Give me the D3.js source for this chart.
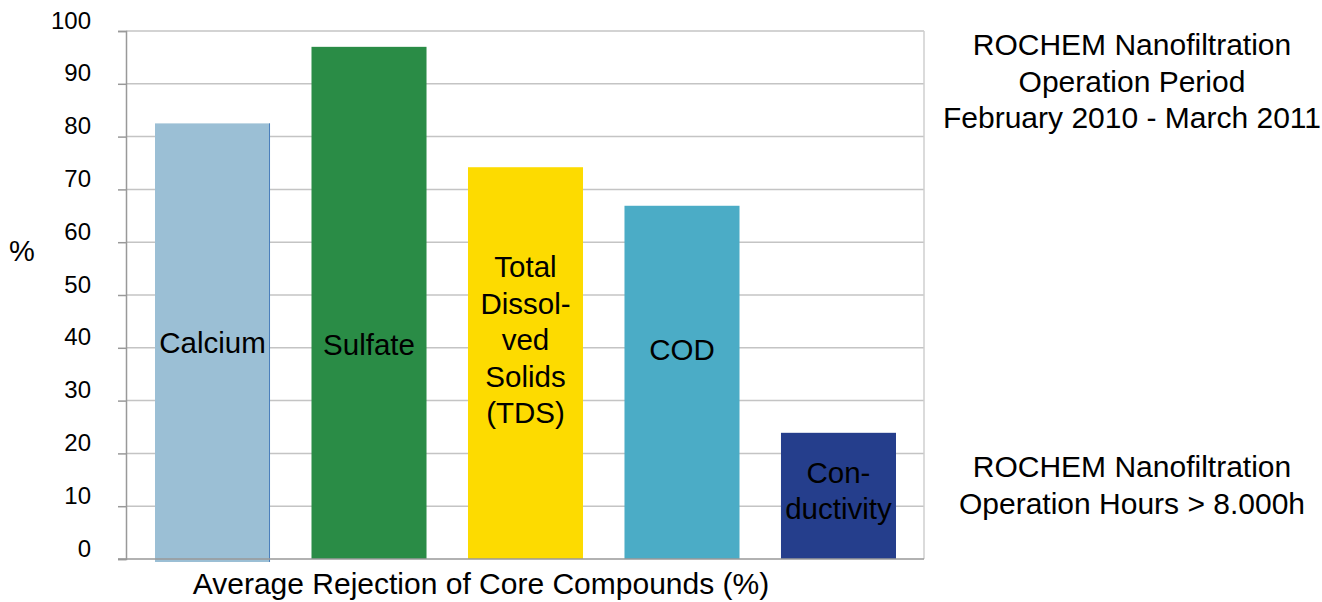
<!DOCTYPE html>
<html><head><meta charset="utf-8">
<script src="https://cdn.jsdelivr.net/npm/d3@7"></script>
<style>
html,body{margin:0;padding:0;background:#fff;}
svg text{font-family:"Liberation Sans",Arial,sans-serif;fill:#000;}
</style></head>
<body><svg id="c" width="1322" height="602"></svg>
<script>
const categories = ["Calcium","Sulfate","TDS","COD","Conductivity"];
const values = [82.5, 97.0, 74.2, 66.9, 23.9];
const colors = ["#9BBFD5","#2A8C46","#FDDB00","#4BACC6","#253E8C"];
const barLabels = [["Calcium"],["Sulfate"],["Total","Dissol-","ved","Solids","(TDS)"],["COD"],["Con-","ductivity"]];
const labelLevel = [39.0, 38.6, 53.4, 37.6, 14.4];
const yTicks = [0,10,20,30,40,50,60,70,80,90,100];
const yTitle = "%";
const xTitle = "Average Rejection of Core Compounds (%)";
const noteTop = ["ROCHEM Nanofiltration","Operation Period","February 2010 - March 2011"];
const noteBottom = ["ROCHEM Nanofiltration","Operation Hours > 8.000h"];

const svg = d3.select("#c");
const L = 126, R = 924, T = 31, B = 559;
const y = d3.scaleLinear().domain([0,100]).range([B,T]);
const x = d3.scaleBand().domain(categories).range([155, 896]).paddingInner(0.265).paddingOuter(0);

// gridlines
svg.append("g").selectAll("line").data(yTicks.filter(d=>d>0)).join("line")
  .attr("x1",L).attr("x2",R).attr("y1",d=>y(d)).attr("y2",d=>y(d))
  .attr("stroke","#c4c4c4").attr("stroke-width",1.5);
// right border
svg.append("line").attr("x1",R).attr("x2",R).attr("y1",T).attr("y2",B)
  .attr("stroke","#cfcfcf").attr("stroke-width",1.5);

// bars
svg.append("g").selectAll("rect").data(categories).join("rect")
  .attr("x",d=>x(d)).attr("width",x.bandwidth())
  .attr("y",(d,i)=>y(values[i])).attr("height",(d,i)=>B-y(values[i]) + (i===0?3:0))
  .attr("fill",(d,i)=>colors[i]);
// calcium right edge
svg.append("line").attr("x1",x(categories[0])+x.bandwidth()-0.5).attr("x2",x(categories[0])+x.bandwidth()-0.5)
  .attr("y1",y(values[0])).attr("y2",B+3).attr("stroke","#4A7EBB").attr("stroke-width",1);

// axes
const yAxis = d3.axisLeft(y).tickValues(yTicks).tickSize(8).tickPadding(27);
const gy = svg.append("g").attr("transform",`translate(${L},0)`).call(yAxis);
gy.select(".domain").attr("stroke","#999").attr("stroke-width",1.5);
gy.selectAll(".tick line").attr("stroke","#999").attr("stroke-width",1.5);
gy.selectAll(".tick text").attr("font-size",24).attr("dy",-3).attr("fill","#111")
  .attr("font-family","Liberation Sans, Arial, sans-serif");
svg.append("line").attr("x1",L-8).attr("x2",R).attr("y1",B).attr("y2",B).attr("stroke","#999").attr("stroke-width",1.5);

// bar labels
categories.forEach((c,i)=>{
  const t = svg.append("text").attr("text-anchor","middle").attr("font-size",29.5)
    .attr("x",x(c)+x.bandwidth()/2).attr("y",y(labelLevel[i]));
  barLabels[i].forEach((s,j)=>t.append("tspan").attr("x",x(c)+x.bandwidth()/2).attr("dy",j===0?0:36.5).text(s));
});

// titles
svg.append("text").attr("x",22).attr("y",261).attr("text-anchor","middle").attr("font-size",29).text(yTitle);
svg.append("text").attr("x",481).attr("y",594).attr("text-anchor","middle").attr("font-size",30).text(xTitle);

const nt = svg.append("text").attr("text-anchor","middle").attr("font-size",30).attr("y",55);
noteTop.forEach((s,j)=>nt.append("tspan").attr("x",1132).attr("dy",j===0?0:36.5).text(s));
const nb = svg.append("text").attr("text-anchor","middle").attr("font-size",30).attr("y",477);
noteBottom.forEach((s,j)=>nb.append("tspan").attr("x",1132).attr("dy",j===0?0:37).text(s));
</script></body></html>
